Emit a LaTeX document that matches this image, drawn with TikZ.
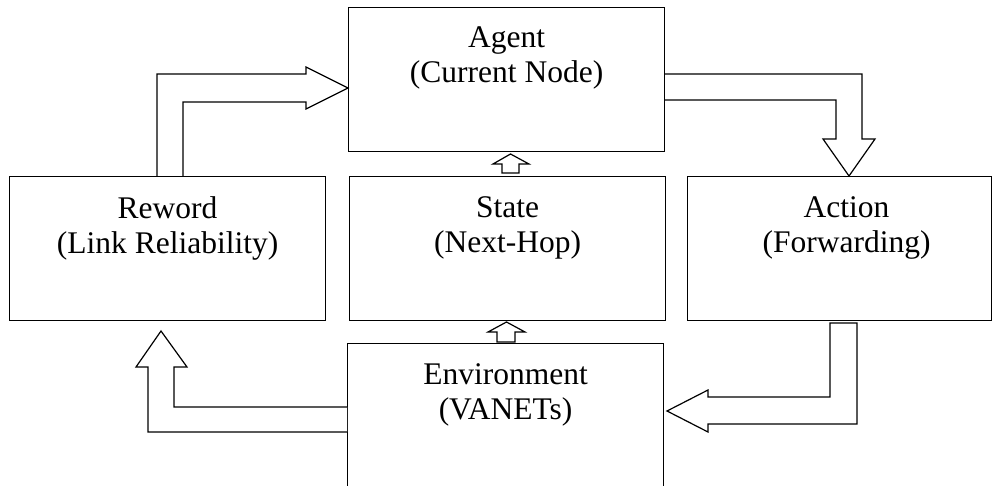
\documentclass[tikz,border=0pt]{standalone}
\usepackage{fontspec}
\setmainfont{Liberation Serif}
\usetikzlibrary{positioning}

\begin{document}
\begin{tikzpicture}[x=1pt, y=-1pt, line join=miter,
		box/.style={draw, line width=1.2pt, minimum width=316pt, minimum height=144pt, inner sep=0pt, anchor=north west},
		lbl/.style={align=center, inner sep=0pt, font=\fontsize{31.5}{35}\selectfont},
		blockarrow/.style={draw, line width=1.2pt, fill=white}]
	% Page window, one unit per pixel of the figure
	\useasboundingbox (0,0) rectangle (992,486);
	
	% Boxes of the learning loop
	\node[box] (agent) at (348,7) {};
	\node[box] (reword) at (9,176) {};
	\node[box] (state) at (349,176) {};
	\node[box, minimum width=304pt] (action) at (687,176) {};
	\node[box, minimum height=170pt] (env) at (347,343) {};
	
	% Box texts, set near the top edge
	\node[lbl, below=20pt of agent.north] (agenttxt) {Agent\\(Current Node)};
	\node[lbl, below=20pt of reword.north] (rewordtxt) {Reword\\(Link Reliability)};
	\node[lbl, below=20pt of state.north] (statetxt) {State\\(Next-Hop)};
	\node[lbl, below=20pt of action.north, xshift=7pt] (actiontxt) {Action\\(Forwarding)};
	\node[lbl, below=20pt of env.north] (envtxt) {Environment\\(VANETs)};
	
	% Reword -> Agent
	\draw[blockarrow] (157,0 |- reword.north) -- (157,74) -- (306,74) -- (306,67)
		-- (agent.west |- 0,88) -- (306,109) -- (306,102) -- (183,102) -- (183,0 |- reword.north);
	% Agent -> Action
	\draw[blockarrow] (agent.east |- 0,74) -- (862,74) -- (862,139) -- (875,139)
		-- (849,0 |- action.north) -- (823,139) -- (836,139) -- (836,100) -- (agent.east |- 0,100);
	% Action -> Environment
	\draw[blockarrow] (830,323) -- (857,323) -- (857,424) -- (708,424) -- (708,432)
		-- (667,411) -- (708,390) -- (708,397) -- (830,397) -- cycle;
	% Environment -> Reword
	\draw[blockarrow] (env.west |- 0,407) -- (174,407) -- (174,367) -- (187,367)
		-- (161,331) -- (136,367) -- (148,367) -- (148,432) -- (env.west |- 0,432);
	
	% small arrows up the middle column
	\draw[blockarrow] (502,173) -- (502,164) -- (493,164) -- (510.5,154) -- (529,164) -- (519,164) -- (519,173) -- cycle;
	\draw[blockarrow] (497,342) -- (497,332) -- (488,332) -- (506.5,322) -- (525,332) -- (515,332) -- (515,342) -- cycle;
\end{tikzpicture}
\end{document}
